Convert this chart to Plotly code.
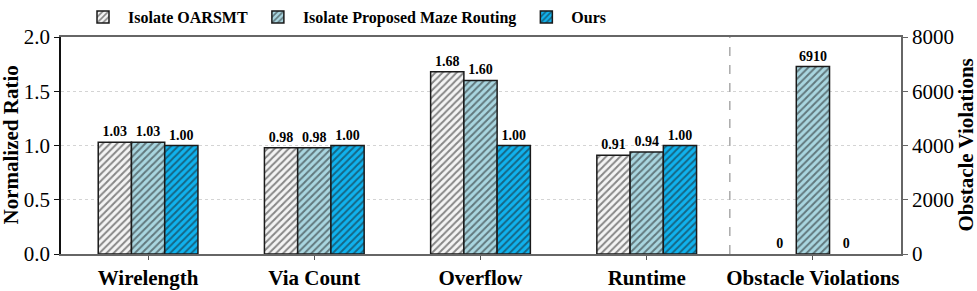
import plotly.graph_objects as go

categories = ["Wirelength", "Via Count", "Overflow", "Runtime", "Obstacle Violations"]
series_names = ["Isolate OARSMT", "Isolate Proposed Maze Routing", "Ours"]
ratio_values = {
    "Isolate OARSMT": [1.03, 0.98, 1.68, 0.91],
    "Isolate Proposed Maze Routing": [1.03, 0.98, 1.60, 0.94],
    "Ours": [1.00, 1.00, 1.00, 1.00],
}
violation_values = {
    "Isolate OARSMT": 0,
    "Isolate Proposed Maze Routing": 6910,
    "Ours": 0,
}
left_ticks = [0.0, 0.5, 1.0, 1.5, 2.0]
right_ticks = [0, 2000, 4000, 6000, 8000]

colors = {"Isolate OARSMT": "#f4f4f4",
          "Isolate Proposed Maze Routing": "#a9d6e0",
          "Ours": "#10b2ee"}

FONT = "Times New Roman, Liberation Serif, serif"
W = 0.2
L, R, T, B = 61, 76, 37, 37
PW = 977 - L - R
fig = go.Figure()
n_ratio = len(categories) - 1
for i, name in enumerate(series_names):
    off = -0.3 + i * W
    pattern = dict(shape="/", size=5, solidity=0.4, fgcolor="#1a1a1a",
                   bgcolor=colors[name], fillmode="overlay")
    fig.add_trace(go.Bar(
        x=list(range(n_ratio)), y=ratio_values[name], name=name,
        offset=off, width=W,
        marker=dict(color=colors[name], pattern=pattern,
                    line=dict(color="#1a1a1a", width=1.5)),
        text=[f"{v:.2f}" for v in ratio_values[name]],
        textposition="outside", cliponaxis=False, constraintext="none",
        textfont=dict(family=FONT, size=14, color="black", weight="bold"),
        legendgroup=name, showlegend=True, yaxis="y",
    ))
    fig.add_trace(go.Bar(
        x=[n_ratio], y=[violation_values[name]], name=name,
        offset=off, width=W,
        marker=dict(color=colors[name], pattern=pattern,
                    line=dict(color="#1a1a1a", width=1.5 if violation_values[name] else 0)),
        text=[f"{violation_values[name]}"],
        textposition="outside", cliponaxis=False, constraintext="none",
        textfont=dict(family=FONT, size=14, color="black", weight="bold"),
        legendgroup=name, showlegend=False, yaxis="y2",
    ))

fig.add_shape(type="line", xref="x", yref="paper", x0=3.5, x1=3.5, y0=0, y1=1,
              line=dict(color="#aaaaaa", width=1.5, dash="dash"))

fig.add_annotation(text="Normalized Ratio", textangle=-90, showarrow=False,
                   xref="paper", yref="paper", x=(10 - L) / PW, y=0.5,
                   xanchor="center", yanchor="middle",
                   font=dict(family=FONT, size=21, weight="bold"))
fig.add_annotation(text="Obstacle Violations", textangle=-90, showarrow=False,
                   xref="paper", yref="paper", x=(965 - L) / PW, y=0.5,
                   xanchor="center", yanchor="middle",
                   font=dict(family=FONT, size=21, weight="bold"))

fig.update_layout(
    width=977, height=291,
    margin=dict(l=L, r=R, t=T, b=B, autoexpand=False),
    barmode="overlay",
    plot_bgcolor="white", paper_bgcolor="white",
    font=dict(family=FONT, color="black"),
    legend=dict(orientation="h", xref="container", yref="container",
                x=78 / 977, y=1.0, xanchor="left", yanchor="top",
                font=dict(family=FONT, size=16, weight="bold"),
                itemwidth=40, bgcolor="rgba(0,0,0,0)", traceorder="normal"),
    xaxis=dict(range=[-0.524, 4.53], tickvals=list(range(len(categories))),
               ticktext=categories, ticks="outside", ticklen=4, tickcolor="#555",
               showline=True, linecolor="#666", linewidth=1.5, mirror=True,
               showgrid=False, zeroline=False,
               tickfont=dict(family=FONT, size=21, weight="bold")),
    yaxis=dict(range=[0, 2.0], tickvals=left_ticks, ticktext=[f"{t:.1f}" for t in left_ticks],
               ticks="outside", ticklen=5, tickcolor="#111",
               showline=True, linecolor="#111", linewidth=1.5,
               showgrid=True, gridcolor="#d4d4d4", griddash="3px,3px", gridwidth=1,
               zeroline=False,
               tickfont=dict(family=FONT, size=21)),
    yaxis2=dict(range=[0, 8000], tickvals=right_ticks, overlaying="y", side="right",
                ticks="outside", ticklen=5, tickcolor="#666",
                showline=True, linecolor="#666", linewidth=1.5,
                showgrid=False, zeroline=False,
                tickfont=dict(family=FONT, size=21)),
)

fig.write_html("out.html", config={"displayModeBar": False},
               post_script="document.body.style.margin='0';")
